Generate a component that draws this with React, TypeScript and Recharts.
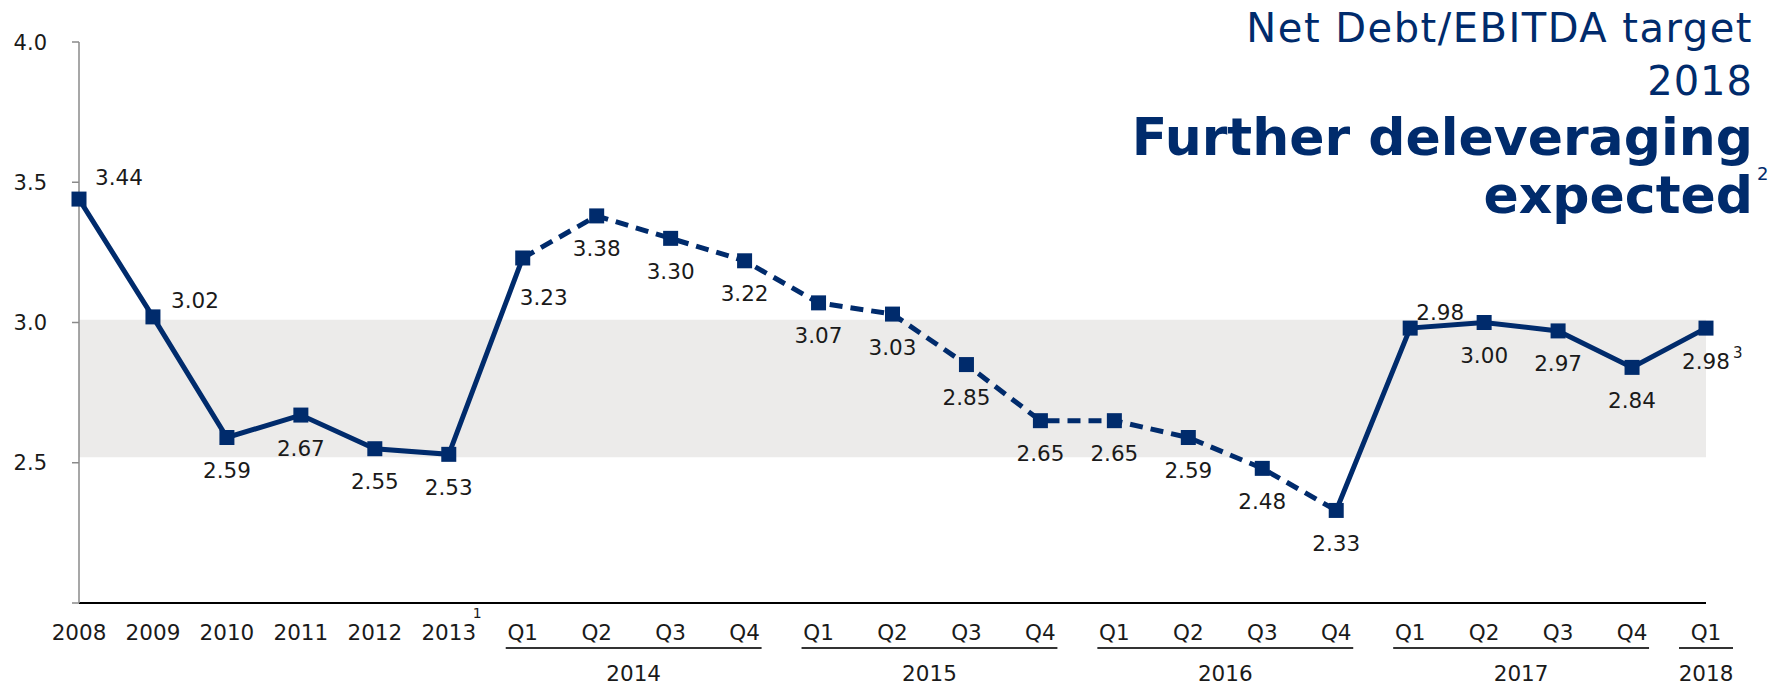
import React from 'react';
import { LineChart, Line, XAxis, YAxis, ReferenceArea } from 'recharts';

// periods on the x axis: annual first, then quarters
const periods = [
  '2008', '2009', '2010', '2011', '2012', '2013',
  '2014 Q1', '2014 Q2', '2014 Q3', '2014 Q4',
  '2015 Q1', '2015 Q2', '2015 Q3', '2015 Q4',
  '2016 Q1', '2016 Q2', '2016 Q3', '2016 Q4',
  '2017 Q1', '2017 Q2', '2017 Q3', '2017 Q4',
  '2018 Q1',
];

// Net Debt / EBITDA
const netDebtEbitda = [
  3.44, 3.02, 2.59, 2.67, 2.55, 2.53,
  3.23, 3.38, 3.30, 3.22,
  3.07, 3.03, 2.85, 2.65,
  2.65, 2.59, 2.48, 2.33,
  2.98, 3.00, 2.97, 2.84,
  2.98,
];

// the stretch between these two periods is drawn dashed
const dashedFrom = '2014 Q1';
const dashedTo = '2016 Q4';

const yTicks = [2, 2.5, 3, 3.5, 4];
const targetBand = [2.52, 3.01];

const tickFootnotes: Record<string, string> = { '2013': '1' };
const valueFootnotes: Record<string, string> = { '2018 Q1': '3' };

const NAVY = '#002B6C';
const FONT = '"DejaVu Sans", Verdana, sans-serif';

// label placement relative to the marker (default: below)
const labelOffset: Record<string, [number, number]> = {
  '2008': [40, -22],
  '2009': [42, -16],
  '2014 Q1': [21, 40],
  '2017 Q1': [30, -16],
};

const iFrom = periods.indexOf(dashedFrom);
const iTo = periods.indexOf(dashedTo);

const rows = periods.map((p, i) => ({
  period: p,
  value: netDebtEbitda[i],
  solidA: i <= iFrom ? netDebtEbitda[i] : null,
  dashed: i >= iFrom && i <= iTo ? netDebtEbitda[i] : null,
  solidB: i >= iTo ? netDebtEbitda[i] : null,
}));

const tickX: Record<string, number> = {};

function PeriodTick(props: any) {
  const { x, y, payload } = props;
  const value: string = payload.value;
  tickX[value] = x;
  const [year, q] = value.split(' ');
  const idx = periods.indexOf(value);
  const txt = { fontFamily: FONT, fontSize: 21.5, fill: '#1a1a1a' };
  const parts: React.ReactNode[] = [
    <text key="l" x={x} y={y + 37} textAnchor="middle" {...txt}>{q ?? year}</text>,
  ];
  if (tickFootnotes[value]) {
    parts.push(
      <text key="f" x={x + 24} y={y + 15} fontFamily={FONT} fontSize={14} fill="#1a1a1a">
        {tickFootnotes[value]}
      </text>
    );
  }
  if (q) {
    const next = periods[idx + 1];
    const isLast = !next || next.split(' ')[0] !== year;
    if (isLast) {
      const first = periods.find((p) => p.startsWith(year + ' '))!;
      const x0 = tickX[first] ?? x;
      const pad = x0 === x ? 27 : 17;
      parts.push(
        <line key="u" x1={x0 - pad} x2={x + pad} y1={y + 45} y2={y + 45} stroke="#333" strokeWidth={2} />
      );
      parts.push(
        <text key="y" x={(x0 + x) / 2} y={y + 78} textAnchor="middle" {...txt}>{year}</text>
      );
    }
  }
  return <g>{parts}</g>;
}

function ValueTick(props: any) {
  const { x, y, payload } = props;
  if (payload.value === 2) return null;
  return (
    <text x={x} y={y + 7.5} textAnchor="end" fontFamily={FONT} fontSize={21} fill="#1a1a1a">
      {Number(payload.value).toFixed(1)}
    </text>
  );
}

function Marker(props: any) {
  const { cx, cy, payload } = props;
  if (cx == null || cy == null) return null;
  const [dx, dy] = labelOffset[payload.period] ?? [0, 33];
  const note = valueFootnotes[payload.period];
  return (
    <g>
      <rect x={cx - 7.5} y={cy - 7.5} width={15} height={15} fill={NAVY} />
      <text
        x={cx + dx}
        y={cy + dy + 7.5}
        textAnchor="middle"
        fontFamily={FONT}
        fontSize={21.5}
        fill="#1a1a1a"
      >
        {payload.value.toFixed(2)}
      </text>
      {note && (
        <text x={cx + dx + 27} y={cy + dy - 3} fontFamily={FONT} fontSize={15} fill="#1a1a1a">
          {note}
        </text>
      )}
    </g>
  );
}

const App: React.FC = () => {
  return (
    <div style={{ position: 'absolute', left: 0, top: 0, width: 1781, height: 685 }}>
      <LineChart
        width={1781}
        height={685}
        data={rows}
        margin={{ top: 42, right: 75, left: 0, bottom: 0 }}
      >
        <ReferenceArea y1={targetBand[0]} y2={targetBand[1]} fill="#ECEBEA" fillOpacity={1} stroke="none" />
        <XAxis
          dataKey="period"
          interval={0}
          height={82}
          tickLine={false}
          tickSize={0}
          tickMargin={0}
          axisLine={{ stroke: '#000', strokeWidth: 2 }}
          tick={PeriodTick}
        />
        <YAxis
          domain={[2, 4]}
          ticks={yTicks}
          width={79}
          tickSize={7}
          tickMargin={25}
          axisLine={{ stroke: '#8a8a8a', strokeWidth: 1.5 }}
          tickLine={{ stroke: '#8a8a8a', strokeWidth: 1.5 }}
          tick={ValueTick}
        />
        <Line dataKey="solidA" stroke={NAVY} strokeWidth={5} dot={false} activeDot={false} isAnimationActive={false} />
        <Line
          dataKey="dashed"
          stroke={NAVY}
          strokeWidth={5}
          strokeDasharray="13 8"
          dot={false}
          activeDot={false}
          isAnimationActive={false}
        />
        <Line dataKey="solidB" stroke={NAVY} strokeWidth={5} dot={false} activeDot={false} isAnimationActive={false} />
        <Line dataKey="value" stroke="none" dot={Marker} activeDot={false} isAnimationActive={false} />
      </LineChart>
      <svg
        width={1781}
        height={685}
        style={{ position: 'absolute', left: 0, top: 0, pointerEvents: 'none' }}
      >
        <g fill={NAVY} fontFamily={FONT} textAnchor="end">
          <text x={1753} y={42} fontSize={40} letterSpacing={1.5}>Net Debt/EBITDA target</text>
          <text x={1753} y={95} fontSize={40} letterSpacing={1}>2018</text>
          <text x={1753} y={155} fontSize={52} fontWeight="bold">Further deleveraging</text>
          <text x={1753} y={213} fontSize={52} fontWeight="bold">expected</text>
        </g>
        <text x={1757} y={180} fontSize={18} fill={NAVY} fontFamily={FONT}>2</text>
      </svg>
    </div>
  );
};

export default App;
